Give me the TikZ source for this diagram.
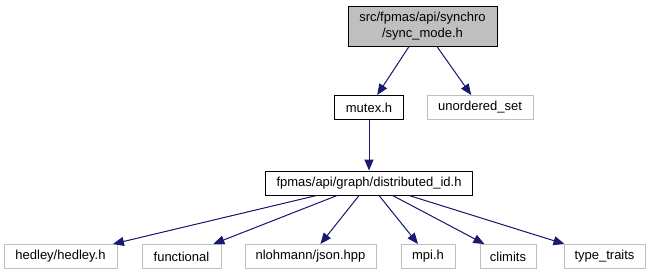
\documentclass[tikz,border=0pt]{standalone}
\usepackage{fontspec}
\setmainfont{Liberation Sans}
\usepackage{tikz}
\usetikzlibrary{arrows.meta}
\usetikzlibrary{positioning}

\definecolor{edgeblue}{HTML}{191970}
\definecolor{sysgray}{HTML}{BFBFBF}

\tikzset{
  hdr/.style={draw=black, line width=1pt, inner sep=0pt, minimum height=24pt,
    font=\fontsize{13}{16}\selectfont},
  syshdr/.style={hdr, draw=sysgray},
  inc/.style={draw=edgeblue, line width=1pt, -{Triangle[length=11pt,width=9pt]}, fill=edgeblue}
}

\begin{document}
\begin{tikzpicture}[x=1pt, y=-1pt]
      \path[use as bounding box] (0, 0) rectangle (652, 276);

      % the file itself
      \node[hdr, fill=sysgray, minimum width=149pt, minimum height=40pt, align=center]
        (syncmode) at (422.5, 26) {src/fpmas/api/synchro\\/sync\_mode.h};

      % direct includes
      \node[hdr, minimum width=69pt] (mutex) at (369, 107.5) {mutex.h};
      \node[syshdr, minimum width=106pt] (uset) at (480, 107.5) {unordered\_set};

      \node[hdr, minimum width=207pt] (distid) at (369, 183) {fpmas/api/graph/distributed\_id.h};

      % headers pulled in by distributed_id.h
      \node[syshdr, minimum width=113pt] (hedley) at (60.5, 256.5) {hedley/hedley.h};
      \node[syshdr, minimum width=79pt] (functional) at (181.5, 256.5) {functional};
      \node[syshdr, minimum width=131pt] (json) at (310.5, 256.5) {nlohmann/json.hpp};
      \node[syshdr, minimum width=54pt] (mpi) at (428, 256.5) {mpi.h};
      \node[syshdr, minimum width=56pt] (climits) at (508, 256.5) {climits};
      \node[syshdr, minimum width=81pt] (traits) at (604.5, 256.5) {type\_traits};

      \draw[inc] (syncmode) -- (mutex);
      \draw[inc] (syncmode) -- (uset);
      \draw[inc] (mutex) -- (distid);

      \draw[inc] (distid) -- (hedley);
      \draw[inc] (distid) -- (functional);
      \draw[inc] (distid) -- (json);
      \draw[inc] (distid) -- (mpi);
      \draw[inc] (distid) -- (climits);
      \draw[inc] (distid) -- (traits);
    \end{tikzpicture}
\end{document}
